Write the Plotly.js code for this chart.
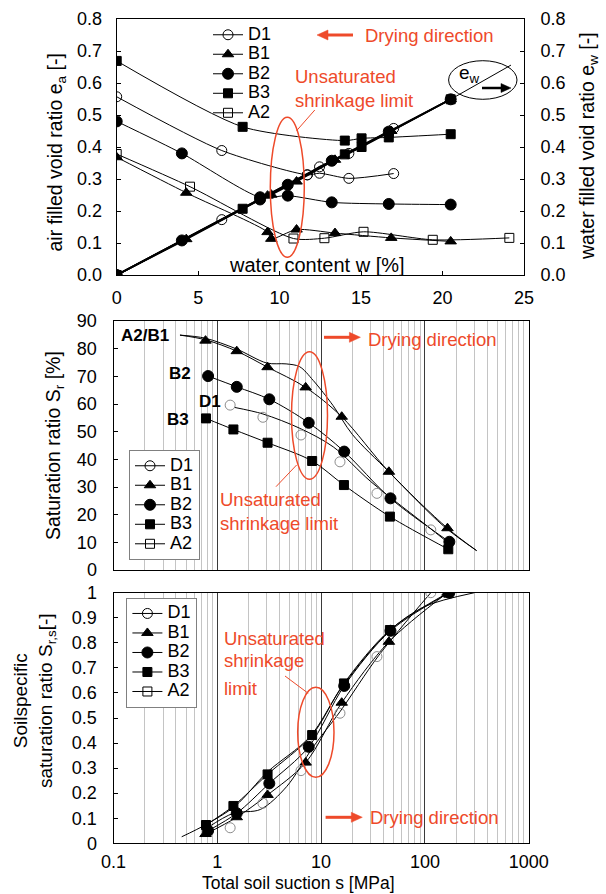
<!DOCTYPE html>
<html><head><meta charset="utf-8">
<script src="https://cdn.plot.ly/plotly-3.0.1.min.js"></script>
<style>html,body{margin:0;padding:0;background:#fff}#chart{width:606px;height:894px}</style>
</head><body><div id="chart"></div>
<script>
// ================= DATA =================
// --- Top panel: water content w [%] vs air filled (e_a) and water filled (e_w) void ratio
const D1_w  = [0, 6.45, 11.7, 12.45, 14.25, 17.0];
const D1_ea = [0.557, 0.389, 0.313, 0.318, 0.302, 0.317];
const D1_ew = [0, 0.173, 0.313, 0.338, 0.38, 0.458];
const B1_w  = [0, 4.27, 9.26, 9.49, 11.04, 13.4, 16.85, 20.5];
const B1_ea = [0.368, 0.257, 0.134, 0.113, 0.142, 0.131, 0.116, 0.105];
const B1_ew = [0, 0.112, 0.248, 0.251, 0.292, 0.36, 0.45, 0.549];
const B2_w  = [0, 4.0, 8.8, 10.5, 13.2, 16.7, 20.5];
const B2_ea = [0.48, 0.38, 0.243, 0.248, 0.227, 0.222, 0.22];
const B2_ew = [0, 0.108, 0.236, 0.282, 0.357, 0.448, 0.549];
const B3_w  = [0, 7.73, 14.0, 15.03, 16.7, 20.5];
const B3_ea = [0.669, 0.463, 0.42, 0.427, 0.43, 0.44];
const B3_ew = [0, 0.207, 0.377, 0.40, 0.445, 0.549];
const A2_w  = [0, 4.5, 10.85, 12.75, 15.15, 19.4, 24.1];
const A2_ea = [0.378, 0.276, 0.114, 0.115, 0.135, 0.11, 0.116];
const ewExt_w = [20.5, 24.2];
const ewExt_e = [0.549, 0.656];

// --- Middle / bottom panels: total soil suction s [MPa]
const D1_s  = [1.33, 2.75, 6.4, 15.2, 34.5, 114];
const D1_Sr = [59.6, 55.2, 48.8, 39.1, 27.7, 14.5];
const D1_Srs = [0.062, 0.16, 0.29, 0.519, 0.745, 1.0];
const B1_s  = [0.77, 1.54, 3.05, 7.1, 15.8, 45, 165];
const B1_Sr = [82.9, 79.1, 73.3, 66.0, 55.4, 35.5, 15.1];
const B1_Srs = [0.037, 0.104, 0.193, 0.322, 0.561, 0.804, 1.0];
const B2_s  = [0.815, 1.54, 3.17, 7.6, 16.7, 46.6, 172];
const B2_Sr = [70.1, 66.2, 61.7, 53.2, 42.8, 25.9, 10.2];
const B2_Srs = [0.05, 0.12, 0.239, 0.385, 0.628, 0.848, 1.0];
const B3_s  = [0.778, 1.43, 3.05, 8.2, 16.6, 46, 168];
const B3_Sr = [54.8, 50.8, 46.0, 39.4, 30.7, 19.3, 7.5];
const B3_Srs = [0.073, 0.149, 0.275, 0.432, 0.638, 0.851, 1.0];

// fitted curves (middle panel)
const A2fit_s  = [0.437, 0.76, 1.53, 3.0, 4.6, 6.2, 8.4, 13, 20, 45, 150, 315];
const A2fit_Sr = [84.9, 83.8, 79.9, 74.8, 74.5, 73.5, 68.5, 59.5, 49, 35.5, 16, 7.0];
const B1fit_s  = [0.437, 0.77, 1.54, 3.05, 7.1, 15.8, 45, 165, 315];
const B1fit_Sr = [84.9, 83.2, 79.1, 73.3, 66.0, 55.4, 35.5, 15.1, 7.0];
const D1fit_s  = [1.45, 2.75, 6.25, 13.1, 30, 113, 172];
const D1fit_Sr = [58.8, 56.4, 51.2, 44.5, 32, 15.0, 9.5];
// fitted curves (bottom panel)
const A2fit2_s   = [0.454, 0.78, 1.5, 3.05, 7.8, 16, 46, 100, 300];
const A2fit2_Srs = [0.026, 0.075, 0.15, 0.285, 0.425, 0.625, 0.85, 0.945, 1.0];
const D1fit2_s   = [0.79, 1.43, 2.6, 4.65, 8.4, 15.2, 36, 114];
const D1fit2_Srs = [0.06, 0.12, 0.135, 0.226, 0.385, 0.525, 0.75, 1.0];

const SAMPLES = ['D1', 'B1', 'B2', 'B3', 'A2'];

// ================= STYLE =================
const RED = '#ee4a2a';
const FONT = 'Liberation Sans, Arial, Helvetica, sans-serif';
const W = 606, H = 894;
const px = v => v / W, py = v => 1 - v / H;
const sym = {D1: 'circle-open', B1: 'triangle-up', B2: 'circle', B3: 'square', A2: 'square-open'};
const msz = {D1: 10, B1: 10, B2: 11, B3: 9, A2: 9};
const mk = (n, color) => ({symbol: sym[n], size: msz[n], color: color || 'black', line: {color: color || 'black', width: 1}});

const traces = [];
// ---- top panel
const topEa = {D1: [D1_w, D1_ea], B1: [B1_w, B1_ea], B2: [B2_w, B2_ea], B3: [B3_w, B3_ea], A2: [A2_w, A2_ea]};
SAMPLES.forEach(n => traces.push({type: 'scatter', name: n, x: topEa[n][0], y: topEa[n][1], xaxis: 'x', yaxis: 'y',
  mode: 'lines+markers', line: {color: 'black', width: 1, shape: 'spline', smoothing: 0.7}, marker: mk(n), showlegend: false}));
traces.push({type: 'scatter', x: ewExt_w, y: ewExt_e, xaxis: 'x', yaxis: 'y2', mode: 'lines',
  line: {color: 'black', width: 1}, showlegend: false});
const topEw = {D1: [D1_w, D1_ew], B1: [B1_w, B1_ew], B2: [B2_w, B2_ew], B3: [B3_w, B3_ew]};
['D1', 'B1', 'B2', 'B3'].forEach(n => traces.push({type: 'scatter', name: n + ' e_w', x: topEw[n][0], y: topEw[n][1], xaxis: 'x', yaxis: 'y2',
  mode: 'lines+markers', line: {color: 'black', width: 1.8}, marker: mk(n), showlegend: false}));

// ---- middle panel
const lineFit = {color: 'black', width: 1, shape: 'spline', smoothing: 0.9};
traces.push({type: 'scatter', x: A2fit_s, y: A2fit_Sr, xaxis: 'x2', yaxis: 'y3', mode: 'lines', line: lineFit, showlegend: false});
traces.push({type: 'scatter', x: B1fit_s, y: B1fit_Sr, xaxis: 'x2', yaxis: 'y3', mode: 'lines', line: lineFit, showlegend: false});
traces.push({type: 'scatter', x: D1fit_s, y: D1fit_Sr, xaxis: 'x2', yaxis: 'y3', mode: 'lines', line: lineFit, showlegend: false});
traces.push({type: 'scatter', x: B2_s, y: B2_Sr, xaxis: 'x2', yaxis: 'y3', mode: 'lines+markers', line: lineFit, marker: mk('B2'), showlegend: false});
traces.push({type: 'scatter', x: B3_s, y: B3_Sr, xaxis: 'x2', yaxis: 'y3', mode: 'lines+markers', line: lineFit, marker: mk('B3'), showlegend: false});
traces.push({type: 'scatter', x: B1_s, y: B1_Sr, xaxis: 'x2', yaxis: 'y3', mode: 'markers', marker: mk('B1'), showlegend: false});
traces.push({type: 'scatter', x: D1_s, y: D1_Sr, xaxis: 'x2', yaxis: 'y3', mode: 'markers', marker: mk('D1', '#8c8c8c'), showlegend: false});

// ---- bottom panel
traces.push({type: 'scatter', x: A2fit2_s, y: A2fit2_Srs, xaxis: 'x3', yaxis: 'y4', mode: 'lines', line: lineFit, showlegend: false});
traces.push({type: 'scatter', x: D1fit2_s, y: D1fit2_Srs, xaxis: 'x3', yaxis: 'y4', mode: 'lines', line: lineFit, showlegend: false});
traces.push({type: 'scatter', x: B1_s, y: B1_Srs, xaxis: 'x3', yaxis: 'y4', mode: 'lines+markers', line: lineFit, marker: mk('B1'), showlegend: false});
traces.push({type: 'scatter', x: B2_s, y: B2_Srs, xaxis: 'x3', yaxis: 'y4', mode: 'lines+markers', line: lineFit, marker: mk('B2'), showlegend: false});
traces.push({type: 'scatter', x: B3_s, y: B3_Srs, xaxis: 'x3', yaxis: 'y4', mode: 'lines+markers', line: lineFit, marker: mk('B3'), showlegend: false});
traces.push({type: 'scatter', x: D1_s, y: D1_Srs, xaxis: 'x3', yaxis: 'y4', mode: 'markers', marker: mk('D1', '#8c8c8c'), showlegend: false});

// ---- legend entries (one set per panel)
[['legend', 'x', 'y'], ['legend2', 'x2', 'y3'], ['legend3', 'x3', 'y4']].forEach(([lg, xa, ya]) => {
  SAMPLES.forEach(n => traces.push({type: 'scatter', x: [null], y: [null], xaxis: xa, yaxis: ya, legend: lg,
    name: '<span style="font-size:18px">' + n + '</span>', mode: 'lines+markers',
    line: {color: 'black', width: 1}, marker: mk(n), showlegend: true}));
});

// ================= LAYOUT =================
const tickfont = {family: FONT, size: 18, color: 'black'};
const axBase = {showline: true, linecolor: 'black', linewidth: 1, mirror: true, zeroline: false, showgrid: false,
  ticks: 'inside', ticklen: 4, tickcolor: 'black', tickfont: tickfont};
const logX = {...axBase, type: 'log', range: [-1, 3], dtick: 1, ticks: '', showgrid: true, gridcolor: '#3a3a3a', gridwidth: 1,
  exponentformat: 'none', minor: {dtick: 'D1', showgrid: true, gridcolor: '#c4c4c4', gridwidth: 1, ticks: ''},
  domain: [px(113.5), px(528.7)]};

const ann = [];
const txt = (t, x, y, opt) => ann.push(Object.assign({text: t, x: px(x), y: py(y), xref: 'paper', yref: 'paper', showarrow: false,
  xanchor: 'left', yanchor: 'middle', font: {family: FONT, size: 18.5, color: RED}}, opt || {}));

// axis titles
const tfont = {family: FONT, size: 19.5, color: 'black'};
txt('air filled void ratio e<sub>a</sub> [-]', 56, 152.5, {textangle: -90, xanchor: 'center', font: tfont});
txt('water filled void ratio e<sub>w</sub> [-]', 588, 146, {textangle: -90, xanchor: 'center', font: tfont});
txt('Saturation ratio S<sub>r</sub> [%]', 54, 446, {textangle: -90, xanchor: 'center', font: tfont});
txt('Soilspecific<br>saturation ratio S<sub>r,s</sub>[-]', 34, 701, {textangle: -90, xanchor: 'center', font: {family: FONT, size: 19, color: 'black'}});
txt('water content w [%]', 317, 265, {xanchor: 'center', font: {family: FONT, size: 20, color: 'black'}});
txt('Total soil suction s [MPa]', 298, 883, {xanchor: 'center', borderpad: 0, font: {family: FONT, size: 17.5, color: 'black'}});

// top panel notes
txt('Drying direction', 363, 36);
txt('Unsaturated<br>shrinkage limit', 293, 88, {align: 'left'});
txt('e<sub>w</sub>', 457, 74, {font: {family: FONT, size: 19, color: 'black'}});

// middle panel notes
const bfont = {family: FONT, size: 17, color: 'black', weight: 'bold'};
txt('<b>A2/B1</b>', 118.6, 335, {font: bfont});
txt('<b>B2</b>', 193.3, 373.3, {xanchor: 'right', font: bfont});
txt('<b>D1</b>', 197, 401.7, {font: bfont});
txt('<b>B3</b>', 190.7, 419.3, {xanchor: 'right', font: bfont});
txt('Drying direction', 366, 339.3);
txt('Unsaturated<br>shrinkage limit', 218, 511, {align: 'left'});

// bottom panel notes
txt('Unsaturated', 222, 638.3);
txt('shrinkage', 222, 660.7);
txt('limit', 222, 688.3);
txt('Drying direction', 368, 817.3);

const shp = [];
const ell = (x0, x1, y0, y1, color, w) => shp.push({type: 'circle', xref: 'paper', yref: 'paper',
  x0: px(x0), x1: px(x1), y0: py(y1), y1: py(y0), line: {color: color, width: w}});
const seg = (x0, y0, x1, y1, color, w) => shp.push({type: 'line', xref: 'paper', yref: 'paper',
  x0: px(x0), y0: py(y0), x1: px(x1), y1: py(y1), line: {color: color, width: w || 1}});
// horizontal arrow: tail x0 -> head x1 at height y
const arrow = (x0, x1, y, color, w, hl, hw) => {
  const d = x1 > x0 ? 1 : -1, xb = x1 - d * hl;
  seg(x0, y, xb + d * 1, y, color, w);
  shp.push({type: 'path', xref: 'paper', yref: 'paper', fillcolor: color, line: {color: color, width: 0.5},
    path: `M ${px(x1)} ${py(y)} L ${px(xb)} ${py(y - hw)} L ${px(xb)} ${py(y + hw)} Z`});
};
ell(270.3, 304.3, 117.3, 257.3, RED, 1.5);
seg(296.6, 130.7, 314.8, 110, RED);
ell(448.6, 517, 60.7, 99.3, 'black', 1);
ell(291.5, 327.5, 351.7, 479.3, RED, 1.5);
seg(296.6, 465, 276, 486.7, RED);
ell(297.7, 334, 687.3, 777.3, RED, 1.5);
seg(285, 676, 308.2, 693.3, RED);
arrow(353, 317, 35, RED, 3, 11, 5);
arrow(482, 511, 88, 'black', 2.5, 10, 4.5);
arrow(324, 360.4, 337.3, RED, 3, 11, 5);
arrow(325.6, 362.3, 817.3, RED, 3, 11, 5);

const lfont = {family: FONT, size: 12.7, color: 'black'};
const layout = {
  width: W, height: H, margin: {l: 0, r: 0, t: 0, b: 0},
  paper_bgcolor: 'white', plot_bgcolor: 'white', font: {family: FONT, color: 'black'},
  xaxis: {...axBase, domain: [px(116.7), px(524)], anchor: 'y', range: [0, 25], dtick: 5, tick0: 0, ticklabelstandoff: 6},
  yaxis: {...axBase, domain: [py(275), py(19)], anchor: 'x', range: [0, 0.8], dtick: 0.1, tickformat: '.1f', ticklabelstandoff: 10},
  yaxis2: {...axBase, overlaying: 'y', side: 'right', anchor: 'x', range: [0, 0.8], dtick: 0.1, tickformat: '.1f', mirror: false, ticklabelstandoff: 12},
  xaxis2: {...logX, anchor: 'y3', showticklabels: false},
  yaxis3: {...axBase, domain: [py(570), py(321)], anchor: 'x2', range: [0, 90], dtick: 10, ticklabelstandoff: 12},
  xaxis3: {...logX, anchor: 'y4', showticklabels: true, ticklabelstandoff: 2},
  yaxis4: {...axBase, domain: [py(843.3), py(592.7)], anchor: 'x3', range: [0, 1], dtick: 0.1, ticklabelstandoff: 12},
  legend: {x: px(208), y: py(20), xanchor: 'left', yanchor: 'top', bgcolor: 'rgba(0,0,0,0)', borderwidth: 0, font: lfont},
  legend2: {x: px(129), y: py(560), xanchor: 'left', yanchor: 'bottom', bgcolor: 'white', bordercolor: '#808080', borderwidth: 1, font: lfont},
  legend3: {x: px(126.4), y: py(597.7), xanchor: 'left', yanchor: 'top', bgcolor: 'white', bordercolor: '#808080', borderwidth: 1, font: lfont},
  annotations: ann, shapes: shp, hovermode: false
};
Plotly.newPlot('chart', traces, layout, {staticPlot: true, displayModeBar: false});
</script>
</body></html>
